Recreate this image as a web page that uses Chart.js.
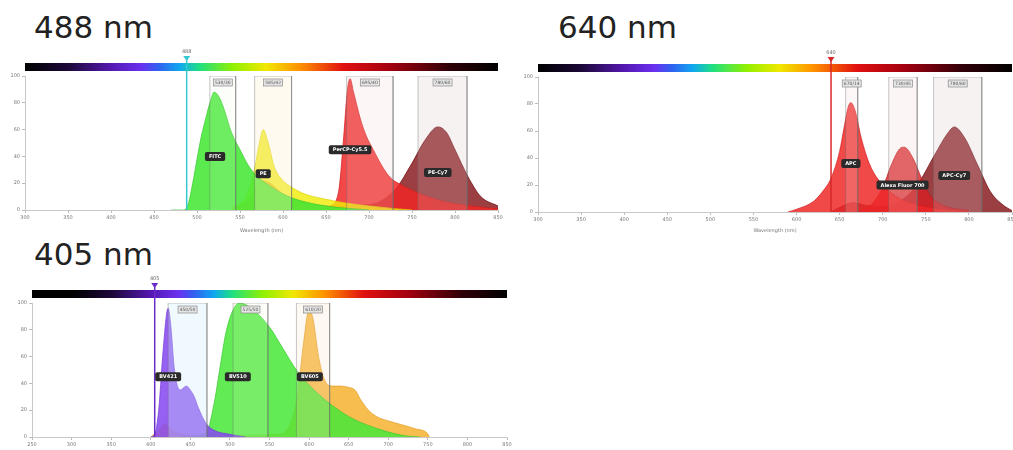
<!DOCTYPE html>
<html>
<head>
<meta charset="utf-8">
<script src="https://cdn.jsdelivr.net/npm/chart.js@4.4.1/dist/chart.umd.min.js"></script>
<style>
  html, body { margin: 0; padding: 0; background: #fff; overflow: hidden; width: 1013px; height: 450px; }
  .title { position: absolute; font-family: "DejaVu Sans", sans-serif; font-size: 31px; color: #222; line-height: 1; }
  canvas { position: absolute; }
</style>
</head>
<body>
<div class="title" style="left:34px; top:12px;">488 nm</div>
<div class="title" style="left:558px; top:12px;">640 nm</div>
<div class="title" style="left:34px; top:239px;">405 nm</div>
<canvas id="c488" width="515" height="195" style="left:0px; top:40px;"></canvas>
<canvas id="c640" width="515" height="195" style="left:515px; top:40px;"></canvas>
<canvas id="c405" width="520" height="185" style="left:5px; top:265px;"></canvas>
<script>
// ---- 488 nm panel ----
const fitcNm  = [470, 485, 490, 495, 500, 505, 510, 515, 520, 525, 530, 540, 550, 560, 570, 580, 600, 620, 650, 700];
const fitcVal = [0, 0, 5, 20, 38, 55, 68, 80, 88, 85, 78, 58, 45, 33, 25, 20, 12, 7, 3, 0];
const peNm  = [540, 555, 565, 572, 577, 582, 590, 600, 610, 625, 650, 675, 700, 730, 750];
const peVal = [2, 8, 25, 48, 60, 52, 32, 22, 17, 12, 8, 5, 3, 1, 0];
const percpNm  = [640, 655, 665, 670, 675, 678, 682, 690, 697, 705, 715, 725, 740, 760, 790, 820, 850];
const percpVal = [0, 3, 15, 50, 90, 98, 88, 68, 55, 45, 33, 24, 18, 12, 6, 3, 1];
const pecy7Nm  = [540, 560, 575, 585, 600, 620, 650, 700, 730, 750, 765, 780, 790, 800, 815, 830, 850];
const pecy7Val = [0, 8, 22, 20, 12, 6, 3, 4, 15, 35, 52, 62, 58, 45, 25, 10, 3];
const bands488    = [[515, 545], [567, 610], [674, 728], [757, 814]];
const bandText488 = ['530/30', '585/42', '695/40', '780/60'];
const dyes488     = ['FITC', 'PE', 'PerCP-Cy5.5', 'PE-Cy7'];
const dyePos488   = [[521, 40], [577, 27], [678, 45], [780, 28]];

// ---- 640 nm panel ----
const apcNm  = [590, 600, 620, 630, 640, 650, 655, 660, 663, 668, 675, 685, 700, 720, 750, 800];
const apcVal = [0, 2, 8, 15, 25, 45, 62, 78, 81, 75, 55, 35, 20, 10, 4, 0];
const af700Nm  = [670, 680, 690, 700, 710, 720, 725, 735, 745, 755, 770, 800];
const af700Val = [0, 2, 8, 18, 35, 47, 48, 40, 25, 12, 5, 1];
const apccy7Nm  = [640, 655, 665, 680, 700, 720, 740, 760, 775, 783, 795, 810, 825, 840, 850];
const apccy7Val = [0, 5, 7, 5, 4, 8, 20, 42, 58, 63, 55, 35, 15, 5, 1];
const bands640    = [[657, 671], [707, 740], [759, 815]];
const bandText640 = ['670/14', '730/45', '780/60'];
const dyes640     = ['APC', 'Alexa Fluor 700', 'APC-Cy7'];
const dyePos640   = [[663, 36], [723, 20], [783, 27]];

// ---- 405 nm panel ----
const bv421Nm  = [400, 405, 410, 415, 420, 422, 425, 430, 437, 445, 450, 455, 460, 470, 480, 500, 520];
const bv421Val = [0, 2, 20, 60, 92, 96, 85, 50, 35, 38, 35, 30, 22, 10, 5, 2, 0];
const bv510Nm  = [440, 455, 470, 480, 487, 495, 505, 512, 525, 550, 567, 584, 610, 651, 693, 720, 740];
const bv510Val = [0, 1, 3, 25, 50, 78, 96, 100, 97, 82, 66, 50, 33, 15, 5, 1, 0];
const bv605Nm  = [400, 410, 418, 425, 440, 470, 560, 575, 585, 593, 600, 605, 612, 620, 630, 640, 650, 658, 665, 675, 686, 700, 718, 735, 749, 752];
const bv605Val = [0, 5, 10, 6, 2, 1, 2, 8, 30, 70, 95, 88, 60, 42, 38, 38, 37, 35, 28, 20, 15, 12, 9, 6, 3, 0];
const bands405    = [[422, 471], [504, 548], [584, 626]];
const bandText405 = ['450/50', '525/50', '610/20'];
const dyes405     = ['BV421', 'BV510', 'BV605'];
const dyePos405   = [[422, 45], [510, 45], [601, 45]];

const yTicks = [0, 20, 40, 60, 80, 100];

// spectrum bar colours
const barNm  = [250, 300, 350, 400, 435, 455, 480, 503, 542, 580, 620, 670, 727, 793, 850];
const barCol = ['#000000', '#000000', '#1c0838', '#5418b0', '#6a30f0', '#3060f0', '#10a8f0', '#20e080', '#90f000', '#f0e800', '#ff9000', '#e01010', '#a00010', '#300008', '#000000'];

function pts(nm, val) {
  return nm.map((x, i) => ({ x: x, y: val[i] }));
}

function spectrum(label, nm, val, fillCol, lineCol) {
  return {
    label: label, data: pts(nm, val), fill: 'origin',
    backgroundColor: fillCol, borderColor: lineCol, borderWidth: 0.8,
    pointRadius: 0, cubicInterpolationMode: 'monotone'
  };
}

function band(b, fillCol) {
  return {
    label: 'band', data: [{x: b[0], y: 0}, {x: b[0], y: 100}, {x: b[1], y: 100}, {x: b[1], y: 0}],
    fill: 'origin', backgroundColor: fillCol, borderColor: 'rgba(110,110,110,0.5)', borderWidth: 0.8,
    pointRadius: 0, tension: 0
  };
}

const extras = {
  id: 'extras',
  afterDatasetsDraw(chart) {
    const o = chart.options.plugins.extras;
    const ctx = chart.ctx, xs = chart.scales.x, ys = chart.scales.y, a = chart.chartArea;
    ctx.save();
    // colour bar
    const x0 = xs.getPixelForValue(xs.min), x1 = xs.getPixelForValue(xs.max);
    const g = ctx.createLinearGradient(x0, 0, x1, 0);
    barNm.forEach((nm, i) => {
      const t = (nm - xs.min) / (xs.max - xs.min);
      if (t >= 0 && t <= 1) g.addColorStop(t, barCol[i]);
    });
    ctx.fillStyle = g;
    ctx.fillRect(x0, a.top - o.barGap - 8, x1 - x0, 8);
    // laser line
    const lx = xs.getPixelForValue(o.laser);
    ctx.strokeStyle = o.laserColor;
    ctx.lineWidth = 1.5;
    ctx.beginPath();
    ctx.moveTo(lx, a.top - o.barGap - 12);
    ctx.lineTo(lx, a.bottom);
    ctx.stroke();
    ctx.fillStyle = o.laserColor;
    ctx.beginPath();
    const ty = a.top - o.barGap - 15;
    ctx.moveTo(lx - 3.5, ty);
    ctx.lineTo(lx + 3.5, ty);
    ctx.lineTo(lx, ty + 5);
    ctx.closePath();
    ctx.fill();
    ctx.fillStyle = '#666';
    ctx.font = '5px "DejaVu Sans"';
    ctx.textAlign = 'center';
    ctx.textBaseline = 'bottom';
    ctx.fillText(String(o.laser), lx, ty - 2);
    // band labels
    ctx.textBaseline = 'middle';
    o.bands.forEach((b, i) => {
      const cx = xs.getPixelForValue((b[0] + b[1]) / 2);
      const w = 19, h = 7, y = a.top + 3;
      ctx.fillStyle = '#e6e6e6';
      ctx.strokeStyle = '#8a8a8a';
      ctx.lineWidth = 0.7;
      ctx.fillRect(cx - w / 2, y, w, h);
      ctx.strokeRect(cx - w / 2, y, w, h);
      ctx.fillStyle = '#555';
      ctx.font = '4.5px "DejaVu Sans"';
      ctx.fillText(o.bandText[i], cx, y + h / 2 + 0.3);
    });
    // dye labels
    ctx.font = 'bold 5px "DejaVu Sans"';
    o.dyes.forEach((d, i) => {
      const cx = xs.getPixelForValue(o.dyePos[i][0]);
      const cy = ys.getPixelForValue(o.dyePos[i][1]);
      const w = ctx.measureText(d).width + 8, h = 9;
      ctx.fillStyle = '#2a2a2a';
      ctx.beginPath();
      ctx.roundRect(cx - w / 2, cy - h / 2, w, h, 2);
      ctx.fill();
      ctx.fillStyle = '#fff';
      ctx.fillText(d, cx, cy + 0.3);
    });
    ctx.restore();
  }
};

function makeChart(id, xMin, xMax, datasets, pad, xHeight, xTitle, ex) {
  return new Chart(document.getElementById(id), {
    type: 'line',
    data: { datasets: datasets },
    plugins: [extras],
    options: {
      responsive: false,
      animation: false,
      devicePixelRatio: 1,
      layout: { padding: pad },
      plugins: { legend: { display: false }, tooltip: { enabled: false }, extras: ex },
      scales: {
        x: {
          type: 'linear', min: xMin, max: xMax,
          ticks: { stepSize: 50, color: '#777', font: { size: 5, family: 'DejaVu Sans' }, padding: 2, maxRotation: 0 },
          grid: { display: true, drawOnChartArea: false, tickLength: 3, color: '#bbb' },
          border: { color: '#c8c8c8' },
          title: { display: !!xTitle, text: xTitle, color: '#777', font: { size: 5, family: 'DejaVu Sans' }, padding: 1 },
          afterFit(s) { s.height = xHeight; }
        },
        y: {
          min: 0, max: 100,
          afterBuildTicks(s) { s.ticks = yTicks.map(v => ({ value: v })); },
          ticks: { color: '#777', font: { size: 5, family: 'DejaVu Sans' }, padding: 2 },
          grid: { display: true, drawOnChartArea: false, tickLength: 3, color: '#bbb' },
          border: { color: '#c8c8c8' },
          afterFit(s) { s.width = 15; }
        }
      }
    }
  });
}

makeChart('c488', 300, 850, [
  band(bands488[0], 'rgba(225,245,215,0.14)'),
  band(bands488[1], 'rgba(252,240,205,0.3)'),
  band(bands488[2], 'rgba(240,205,205,0.18)'),
  band(bands488[3], 'rgba(215,190,190,0.2)'),
  spectrum(dyes488[0], fitcNm, fitcVal, 'rgba(70,232,55,0.88)', 'rgba(60,200,50,0.9)'),
  spectrum(dyes488[1], peNm, peVal, 'rgba(240,235,10,0.82)', 'rgba(220,210,0,0.9)'),
  spectrum(dyes488[2], percpNm, percpVal, 'rgba(240,40,40,0.85)', 'rgba(210,30,30,0.9)'),
  spectrum(dyes488[3], pecy7Nm, pecy7Val, 'rgba(130,15,20,0.8)', 'rgba(110,10,15,0.9)')
], { left: 10, right: 17, top: 36, bottom: 0 }, 25, 'Wavelength (nm)',
  { laser: 488, laserColor: '#35c8d2', barGap: 5, bands: bands488, bandText: bandText488, dyes: dyes488, dyePos: dyePos488 });

makeChart('c640', 300, 850, [
  band(bands640[0], 'rgba(245,215,215,0.2)'),
  band(bands640[1], 'rgba(240,205,205,0.2)'),
  band(bands640[2], 'rgba(215,195,195,0.22)'),
  spectrum(dyes640[0], apcNm, apcVal, 'rgba(238,40,40,0.85)', 'rgba(210,30,30,0.9)'),
  spectrum(dyes640[1], af700Nm, af700Val, 'rgba(215,30,35,0.8)', 'rgba(190,20,25,0.9)'),
  spectrum(dyes640[2], apccy7Nm, apccy7Val, 'rgba(130,15,20,0.8)', 'rgba(110,10,15,0.9)')
], { left: 8, right: 18, top: 37, bottom: 0 }, 23, 'Wavelength (nm)',
  { laser: 640, laserColor: '#d82828', barGap: 5, bands: bands640, bandText: bandText640, dyes: dyes640, dyePos: dyePos640 });

makeChart('c405', 250, 850, [
  band(bands405[0], 'rgba(205,235,250,0.3)'),
  band(bands405[1], 'rgba(235,250,210,0.15)'),
  band(bands405[2], 'rgba(250,222,195,0.22)'),
  spectrum(dyes405[0], bv421Nm, bv421Val, 'rgba(135,75,240,0.88)', 'rgba(120,60,220,0.9)'),
  spectrum(dyes405[1], bv510Nm, bv510Val, 'rgba(70,232,55,0.85)', 'rgba(60,200,50,0.9)'),
  spectrum(dyes405[2], bv605Nm, bv605Val, 'rgba(245,175,40,0.82)', 'rgba(225,155,30,0.9)')
], { left: 12, right: 18, top: 38, bottom: 0 }, 13, '',
  { laser: 405, laserColor: '#6a2cc8', barGap: 5, bands: bands405, bandText: bandText405, dyes: dyes405, dyePos: dyePos405 });
</script>
</body>
</html>
